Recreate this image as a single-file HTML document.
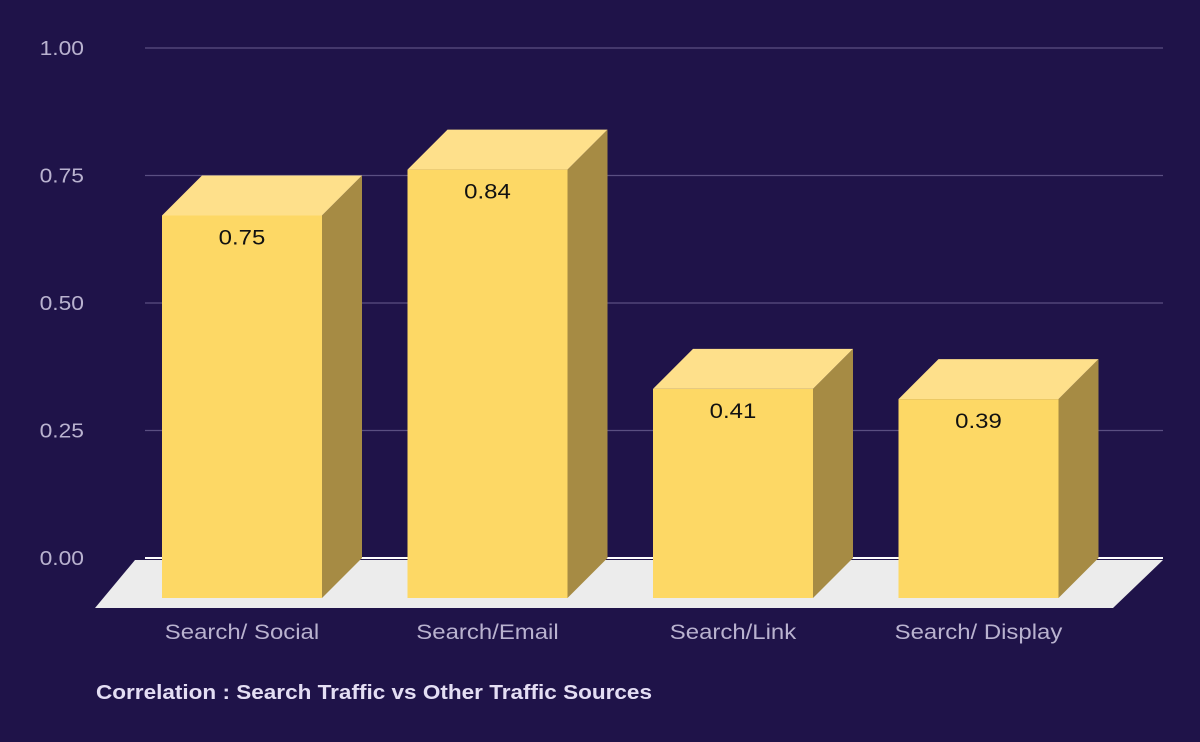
<!DOCTYPE html>
<html><head><meta charset="utf-8"><style>
html,body{margin:0;padding:0;background:#1f1349;}
svg{display:block;font-family:"Liberation Sans",sans-serif;}
</style></head><body>
<svg id="chart" width="1200" height="742" viewBox="0 0 1200 742">
<rect width="1200" height="742" fill="#1f1349"/>
<g id="grid"></g>
<g id="ticks"></g>
<polygon points="135,560 1163,560 1113,608 95,608" fill="#ececec"/>
<g id="bars"></g>
<g id="cats"></g>
<text x="96" y="699" font-size="20" font-weight="bold" fill="#e4def4" textLength="556" lengthAdjust="spacingAndGlyphs">Correlation : Search Traffic vs Other Traffic Sources</text>
</svg>
<script>
const categories = ["Search/ Social","Search/Email","Search/Link","Search/ Display"];
const values = [0.75,0.84,0.41,0.39];
const tickValues = [0,0.25,0.5,0.75,1];
const tickLabels = ["0.00","0.25","0.50","0.75","1.00"];

const NS="http://www.w3.org/2000/svg";
const y0=558, pxPerUnit=510, depth=40;
const yScale=v=>y0-v*pxPerUnit;
const xBand=i=>162+i*245.5;
const barW=160;
const widen=1.14;
function mk(tag,attrs,parent){const e=document.createElementNS(NS,tag);for(const k in attrs)e.setAttribute(k,attrs[k]);parent.appendChild(e);return e;}
function stretch(t){const w=t.getComputedTextLength();t.setAttribute('textLength',(w*widen).toFixed(1));t.setAttribute('lengthAdjust','spacingAndGlyphs');}
const grid=document.getElementById('grid'),ticks=document.getElementById('ticks'),bars=document.getElementById('bars'),cats=document.getElementById('cats');
tickValues.forEach((v,i)=>{
  const y=yScale(v);
  const l=mk('line',{x1:145,x2:1163,y1:y,y2:y,stroke:v===0?'#ffffff':'#5a4f82','stroke-width':v===0?2:1.2},grid);
  
  
  const t=mk('text',{x:84,y:y+7,'text-anchor':'end','font-size':20,fill:'#b9b2cf'},ticks);
  t.textContent=tickLabels[i];
  
  
  stretch(t);
});
values.forEach((v,i)=>{
  const x=xBand(i), yb=yScale(v), yf=yb+depth, bottom=y0+depth;
  const g=mk('g',{},bars);
  
  
  mk('polygon',{points:`${x+barW},${yf} ${x+barW+depth},${yb} ${x+barW+depth},${y0} ${x+barW},${bottom}`,fill:'#a68b44'},g);
  mk('polygon',{points:`${x},${yf} ${x+depth},${yb} ${x+barW+depth},${yb} ${x+barW},${yf}`,fill:'#fee08b'},g);
  mk('rect',{x:x,y:yf,width:barW,height:bottom-yf,fill:'#fdd865'},g);
  const t=mk('text',{x:x+barW/2,y:yf+29,'text-anchor':'middle','font-size':21,fill:'#111'},g);
  t.textContent=v.toFixed(2);
  
  
  stretch(t);
  const c=mk('text',{x:x+barW/2,y:639,'text-anchor':'middle','font-size':21,fill:'#b9b2cf'},cats);
  c.textContent=categories[i];
  
  
  stretch(c);
});
</script>
</body></html>
